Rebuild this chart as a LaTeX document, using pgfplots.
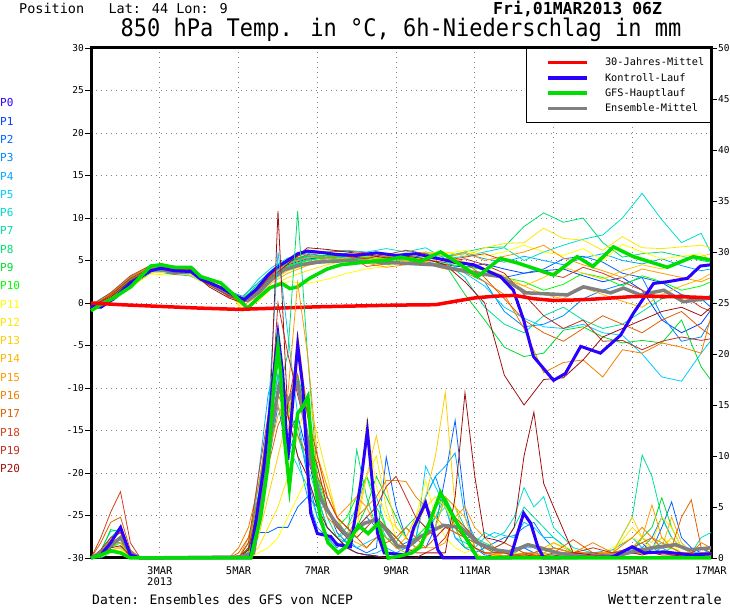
\documentclass[border=0pt]{standalone}
\usepackage{fontspec}
\setmainfont{DejaVu Sans Mono}
\usepackage{pgfplots}
\usepackage{pgfplotstable}
\pgfplotsset{compat=1.18}
\newcommand{\fs}[1]{\fontsize{#1}{#1}\selectfont}
\definecolor{c0}{HTML}{2A00FF}
\definecolor{c1}{HTML}{0040FF}
\definecolor{c2}{HTML}{0066FF}
\definecolor{c3}{HTML}{0088FF}
\definecolor{c4}{HTML}{00AAFF}
\definecolor{c5}{HTML}{00CCFF}
\definecolor{c6}{HTML}{00DDCC}
\definecolor{c7}{HTML}{00DDA0}
\definecolor{c8}{HTML}{00DD70}
\definecolor{c9}{HTML}{00DD30}
\definecolor{c10}{HTML}{00FF00}
\definecolor{c11}{HTML}{FFFF00}
\definecolor{c12}{HTML}{FFE600}
\definecolor{c13}{HTML}{FFCC00}
\definecolor{c14}{HTML}{FFB300}
\definecolor{c15}{HTML}{FF9900}
\definecolor{c16}{HTML}{F08000}
\definecolor{c17}{HTML}{E06000}
\definecolor{c18}{HTML}{D04020}
\definecolor{c19}{HTML}{C03020}
\definecolor{c20}{HTML}{A01010}
\definecolor{gfs}{HTML}{00DD00}
\definecolor{ens}{HTML}{808080}

% ---------- ensemble members, 850 hPa temperature ----------
\pgfplotstableread{
t     m1   m2   m3   m4   m5   m6   m7   m8   m9   m10  m11  m12  m13  m14  m15  m16  m17  m18  m19  m20
1.25 -0.5 -0.3 -0.6 -0.4 -0.5 -0.2 -0.4 -0.6 -0.5 -0.3 -0.6 -0.4 -0.5 -0.3 -0.5 -0.4 -0.6 -0.3 -0.5 -0.4
1.75  0.4  0.6  0.3  0.8  0.5  1.2  0.9  0.6  0.7  0.5  0.3  0.6  0.5  0.8  0.9  1.0  1.1  1.2  0.9  0.7
2.25  2.0  2.2  1.9  2.6  2.4  3.1  2.8  2.5  2.7  2.3  1.8  2.0  2.2  2.5  2.9  3.0  2.8  3.2  2.9  2.6
2.75  3.7  3.8  3.5  4.0  3.9  4.3  4.1  3.8  4.2  3.9  3.4  3.6  3.7  4.0  4.2  4.3  4.0  4.4  4.1  3.9
3.25  3.8  3.5  3.9  3.6  3.4  3.9  3.7  4.1  3.5  3.8  3.3  3.6  3.9  4.0  3.8  4.3  4.1  4.4  4.0  4.2
3.75  3.5  3.6  3.3  3.4  3.2  3.7  3.5  3.9  3.6  3.8  3.4  3.3  3.6  3.9  3.7  4.0  3.8  4.1  3.9  4.0
4.25  2.3  2.5  2.1  2.6  2.2  2.4  2.7  2.3  2.5  2.4  2.6  2.0  2.2  2.5  2.4  2.7  2.3  2.6  2.1  1.9
4.75  1.0  1.3  0.8  1.4  1.1  1.2  0.9  1.0  1.5  1.2  1.6  1.4  1.0  1.1  1.3  1.0  0.8  0.7  0.9  0.6
5.1   0.3  0.5  0.0  0.8  0.2  0.6  0.4  0.1  0.5  0.3 -0.8 -1.0  0.6 -0.3  0.2  0.4  0.1  0.5  0.3  0.0
5.5   1.5  1.8  1.2  2.4  1.6  2.8  2.0  1.4  2.2  1.5  0.2  0.5  1.0  0.8  1.3  1.7  1.9  1.6  1.4  1.2
5.85  3.2  3.5  2.8  3.9  3.0  4.2  3.6  3.0  3.8  3.1  1.8  2.0  2.6  2.4  2.9  3.3  3.5  3.4  3.7  3.0
6.25  4.5  4.8  4.0  5.0  4.2  5.3  4.7  4.3  4.9  4.4  2.5  3.0  3.8  3.5  4.0  4.6  4.9  5.0  5.2  4.6
6.75  5.2  5.5  4.8  5.6  5.0  5.8  5.4  5.1  5.5  5.0  2.3  3.8  4.5  4.4  4.8  5.3  5.7  6.0  6.2  6.5
7.25  5.3  5.6  5.2  5.9  5.4  6.1  5.5  5.3  5.6  5.4  2.8  4.5  4.8  5.0  5.2  5.4  5.9  6.0  5.8  6.3
7.75  5.5  5.4  5.0  5.8  5.6  6.2  5.3  5.1  5.5  5.2  3.5  5.0  4.9  5.3  5.0  5.6  5.7  6.1  5.5  6.0
8.25  5.3  5.2  4.9  5.6  5.4  6.0  5.1  5.3  5.0  5.4  4.0  5.2  5.1  5.5  4.7  5.8  4.3  5.9  5.2  5.7
8.75  5.0  5.5  5.2  5.4  5.7  6.4  4.5  5.0  5.3  5.1  4.3  5.6  5.4  5.2  4.2  5.5  4.6  5.7  5.8  5.3
9.25  5.2  5.7  5.0  5.8  5.5  6.0  4.8  5.3  5.6  5.0  4.9  5.4  5.8  5.0  4.5  5.2  4.8  6.2  5.4  5.5
9.75  4.8  5.3  4.6  5.6  5.9  6.5  4.4  6.0  5.2  4.7  5.4  5.9  6.0  4.8  4.9  4.6  4.5  5.8  5.0  5.2
10.25 4.5  5.0  4.2  5.5  5.0  5.2  4.8  5.5  4.5  4.6  5.8  6.0  5.5  4.2  5.2  4.0  4.5  5.0  4.8  4.5
10.75 4.2  4.6  4.0  5.8  3.5  5.5  3.0  6.0  1.0  4.3  6.2  5.5  4.8  4.0  6.0  3.6  4.8  5.4  5.2  2.5
11.25 4.6  3.8  2.5  5.2  2.0  6.0 -0.5  6.5 -2.0  3.9  5.5  6.5  4.0  3.5  5.0  2.5  3.0  5.8  4.5  0.0
11.75 4.0  3.0 -1.0  4.8 -0.5  6.5 -2.5  6.6 -5.2  3.0  6.0  7.0  3.2  2.8  5.5  1.0  0.5  5.0  3.5 -8.5
12.25 3.5  3.5 -2.8  5.5 -1.8  5.0 -3.5  9.0 -6.3  2.5  6.8  7.1  2.0  2.0  6.0 -3.0 -2.0  4.5  1.0 -12.0
12.75 3.8  4.0 -2.5  5.0 -2.8  6.0 -1.5 10.6 -5.9  1.5  6.0  8.8  3.0  1.0  6.8 -8.2 -3.5  3.5 -1.5 -9.0
13.25 4.0  5.2 -1.5  4.5 -3.0  6.8 -0.5  9.5 -3.2  2.2  5.6  7.6  4.2  0.5  5.3 -7.0 -4.5  3.0 -3.0 -8.8
13.75 3.2  5.5  0.5  5.3 -2.5  7.5 -2.0 10.0 -2.8  3.5  6.4  7.4  3.5  1.8  4.5 -6.7 -3.0  4.2 -2.0 -6.7
14.25 2.5  4.8  1.5  5.8 -3.5  8.0 -3.0  7.1 -4.0  3.0  5.0  6.2  2.8  1.0  3.8 -8.7 -1.5  3.5 -4.5 -4.0
14.75 3.0  3.5  2.2  5.0 -3.8 10.0 -2.5  5.4 -4.7  2.0  6.9  7.8  3.8  0.2  3.0 -5.5 -2.5  2.5 -4.4 -3.0
15.25 1.5  3.0  3.0  4.6 -6.0 12.9 -1.0  5.8 -4.4  3.2  6.0  6.5  4.5 -0.5  4.0 -5.9 -3.5  1.5 -5.5 -2.0
15.75 -2.0 2.4 -1.5  5.2 -8.7  9.8  0.5  6.0 -4.7  2.5  5.2  6.4  4.0  1.0  3.5 -4.7 -2.0  0.5 -4.5 -1.0
16.25 -3.5 1.0 -4.5  4.4 -9.2  7.1  1.0  5.5 -2.0  1.5  5.5  6.6  5.0  2.0  3.0 -5.2 -1.0  1.0 -4.0 -0.5
16.75 -2.4 0.5 -4.0  3.8 -5.9  8.2  0.2  5.0 -7.5  2.0  5.8  6.8  5.5  2.8  2.5 -5.9 -3.0 -0.5 -4.4 -1.5
17.0 -0.8 -0.5 -2.0  4.0 -4.4  5.9  1.0  4.8 -9.1  2.5  5.0  6.5  5.8  3.5  3.0 -1.6 -3.8 -1.0 -4.2 -0.5
}\tmem

% ---------- ensemble members, 6h precipitation ----------
\pgfplotstableread{
t     m1   m2   m3   m4   m5   m6   m7   m8   m9   m10  m11  m12  m13  m14  m15  m16  m17  m18  m19  m20
1.25  0    0    0    0    0    0    0    0    0    0    0    0    0    0    0    0    0    0    0    0
1.5   0.3  0.5  0.2  0    0.4  0.8  0.5  0.3  0.6  0.2  0.1  0.3  0.2  0.5  0.4  0.6  1.5  2.0  0.8  0.3
1.75  1.0  1.5  0.8  0.5  1.2  2.6  2.0  1.5  2.8  1.0  0.5  0.8  0.6  1.2  1.5  1.8  3.5  4.5  2.0  1.0
2.0   2.0  1.5  1.0  0.6  1.5  2.8  3.0  2.0  2.5  1.5  0.8  1.0  1.2  1.5  1.8  2.5  4.0  6.5  2.5  1.2
2.25  0.3  0.2  0.1  0    0.2  0.5  0.4  0.3  0.5  0.2  0    0.1  0.2  0.3  0.2  0.5  0.8  1.5  0.5  0.2
2.5   0    0    0    0    0    0    0    0    0    0    0    0    0    0    0    0    0    0    0    0
4.75  0    0    0    0    0    0    0    0    0    0    0    0    0    0    0    0    0    0    0    0
5.0   0    0    0    0    0    0    0    0    0    0    0    0    0    0    0    1.0  0.5  0    0    0
5.25  0.5  1.0  0.2  0.5  1.5  1.0  0.8  0.5  1.0  0.6  0    0.2  0.5  2.0  1.5  3.0  2.0  1.5  1.0  0.8
5.5   5    2.5  4    8    6    7    5    4    6    3    0.5  1    2    6    5    7    6    8    5    4
5.75  12   2.5  9    16   14   12   13   10   13   9    1    3    6    12   10   13   9    14   11   10
6.0   18   3    15   20   30   18   20   16   19   16   2    5    10   15   14   16   13   20   25   34
6.25  12   3    10   14   22   11   15   20   15   14   4    8    14   12   16   14   15   15   20   14
6.5   14   5    13   10   14   9    12   34   12   18   6    12   20   22   27   12   18   20   16   10
6.75  10   6    8    6    8    7    9    20   10   14   8    16   15   14   20   10   11   14   12   8
7.0   6    5    4    3    5    4    6    8    7    8    10   12   10   9    10   7    8    10   9    5
7.25  3    5    2    2    6    3    3    4    5    5    7    8    6    5    7    4    6    6    5    3
7.5   2    2.5  1    1.5  4    2    2    2    3    3    4    4    4    3    4    3    4    4    3    2
7.75  1    1.5  2    1    2    2.5  3    1.5  2    4    3    2    3    2    5    2    3    3    2    1
8.0   0.5  1    3    0.5  1    2    5    10.6 3    6    2    3    4    1.5  6    4    2    2    3    0.5
8.25  0.3  0.5  4    0.3  1.5  3    8    6    5    8    13.5 8    8    1    5    5    1    3    4    0.3
8.5   0.2  1    3    0.5  2    4    6    3    8    5    7    10   12   2    3    6    2    4    5    0.2
8.75  0    9.9  2    1    3    2    3    2    6    3    4    5    7    3    2    7.6  1.5  3    7    0
9.0   0    5    1    0.5  2    1    2    1.5  4    2    3    2    3    1    1    7.6  2    2    8    0
9.25  0    2    1.5  1    1    0.5  1    3    2    1    2    1    2    0.5  2    7.5  3    1    6    0
9.5   0    1    2    3    1.5  1    2    4    1    2    4    3    4    1    1    6    2    0.5  4    0
9.75  0    1    6    6    9    2    3    3    2    3    7.6  5    6    2    1    5    1    0.5  3    0.5
10.0  0    3    8    8    7    4    3    4    5    5    4    6    10   3    1    4    2    1    2    0.5
10.25 0    8    5    9    5    5    6    6    6    6    2    5    16.2 6    1.5  3    3    2    3    0.5
10.5  0    13.5 2    10.3 2    3    4    5    3    3    1    3    5    5    4    2.5  2.5  4    3    6
10.75 0    5    1    4    1.5  2    2    3    1    2    0.5  2    2    4    5    2    2    3    2    16.2
11.0  0    1    0.5  2    1    1.5  2    2    1    1.5  1    1    0.5  1    3    1    1.5  2    1    8
11.25 0    0.3  1    0.5  2    2.5  1.5  1    0.5  1    0.5  0.5  0    0.5  2    0.5  1    1    0.5  2
11.5  0    0.2  1.5  0.3  2.5  2    1    1    0.3  0.5  0.3  0.2  0    0.3  1    0.3  0.5  1    0.5  1.8
11.75 0    0.5  2    0.2  2.2  2.5  1.5  0.5  0.2  0.5  0.5  0.5  0    0.2  0.5  0.2  0.5  1.5  0.5  1.5
12.0  0    1    2.2  0.5  2    4    3    0.3  0.2  0.5  1    0.5  0    0    0.3  0.3  0.2  1    0.3  3
12.25 0    1    3    1    3.5  6.9  5    0.5  0.5  0.3  0.5  0.3  0    0    0.2  0.5  0.3  0.5  0.3  10
12.5  0    0.5  3.5  1    3    5    4    0.3  0.3  0.2  0.3  0.2  0    0.3  0.2  0.5  0.5  0.3  0.2  14.3
12.75 0    0.3  2    0.5  2    6    3    0.2  0.2  0.5  0.5  0.3  0.5  1    0.5  0.8  1.0  0.2  0.1  7.3
13.0  0    0.2  1    0.3  2    3    2    0.3  0.2  1    1.5  0.5  0.2  1.5  1    1    0.5  0.5  0.2  5
13.5  0    0.1  0.5  0.2  0.5  1    0.5  0.2  0.1  0.5  0.8  0.3  0.2  0.5  0.5  0.5  1.8  0.5  0.5  0.5
14.0  0    0.2  0.3  0.5  0.3  0.5  0.3  0.5  0.3  0.3  0.2  0.2  0.3  0.3  0.3  1.5  0.5  0.5  1    0.3
14.5  0.3  0.5  0.5  0.8  0.5  0.3  0.5  0.3  0.2  0.3  1    0.5  0.5  0.3  0.5  0.5  0.5  0.2  0.5  0.2
15.0  1    1    0.8  2    1    1    4    0.5  0.5  1    2    3    4    0.5  1    2    1    1    0.5  0.5
15.25 1.5  0.5  1    1    2    0.5  10.1 0.5  2    0.8  1.5  2    2    0.5  2    3    1.5  0.8  0.5  0.3
15.5  0.5  0.8  2    0.5  1    1    8    1    3    0.5  1    1.5  1    1    5.2  2    2    0.5  0.5  0.5
15.75 0.5  3    4    1    2    1.5  4    0.5  5.9  0.5  2    4    1    1    2    1.5  1    0.5  0.5  0.3
16.0  0.3  5.5  2    0.5  1    1    2    0.5  3    1    1.5  3    2    4    1    1    1    0.5  0.3  0.3
16.25 0.3  2    1    0.3  0.5  0.5  1    0.3  1    0.5  0.5  1    1    1.5  0.5  0.5  4    0.5  0.3  0.2
16.5  0.2  1    0.5  0.5  0.5  0.5  0.5  0.3  0.5  0.3  0.3  0.5  0.5  0.5  0.5  0.5  5.7  0.3  0.5  0.2
16.75 0.3  0.5  0.5  1    0.3  2    1    0.5  0.3  0.2  0.5  0.3  0.3  0.3  0.3  1.5  1    0.5  1    0.3
17.0  0.5  0.3  0.5  0.3  0.5  2.5  0.5  0.3  0.2  0.2  0.3  0.3  0.5  0.3  0.5  1    0.5  0.5  1    0.5
}\pmem

% ---------- main lines, temperature ----------
\pgfplotstableread{
t T
1.25 0
2.0 -0.2
3.0 -0.4
4.0 -0.6
5.0 -0.75
6.0 -0.6
7.0 -0.45
8.0 -0.35
9.0 -0.25
10.0 -0.2
10.5 0.2
11.0 0.6
11.5 0.8
12.0 0.9
12.5 0.5
13.0 0.3
13.5 0.35
14.0 0.45
14.5 0.6
15.0 0.75
15.5 0.8
16.0 0.75
16.5 0.7
17.0 0.6
}\tclim

\pgfplotstableread{
t T
1.25 -0.9
1.5 -0.2
1.83 0.6
2.26 1.9
2.77 4.35
3.03 4.5
3.36 4.2
3.79 4.2
4.04 3.1
4.55 2.35
4.88 0.95
5.23 -0.6
5.5 0.6
5.8 1.8
6.1 2.3
6.3 1.7
6.5 1.9
6.8 2.9
7.25 4.0
7.6 4.5
8.2 4.8
8.7 5.0
9.12 5.4
9.62 4.9
10.13 6.0
10.64 4.5
11.07 3.1
11.65 5.25
12.09 4.7
13.0 3.3
13.6 5.45
14.0 4.3
14.52 6.6
15.03 5.45
15.89 4.2
16.55 5.45
17.0 5.05
}\tgfs

\pgfplotstableread{
t T
1.25 -0.4
1.5 -0.5
1.83 0.5
2.26 2.4
2.77 3.8
3.03 4.1
3.36 3.8
3.79 3.7
4.04 2.8
4.55 1.8
4.88 0.9
5.15 0.4
5.45 1.6
5.75 3.3
6.0 4.3
6.25 5.0
6.5 5.8
6.75 6.1
7.0 6.0
7.5 5.7
8.0 5.6
8.5 5.9
9.0 5.6
9.5 5.8
10.0 5.3
10.5 4.8
10.97 4.5
11.65 3.1
11.98 1.5
12.24 -2.0
12.49 -6.3
13.0 -9.1
13.3 -8.3
13.69 -5.1
14.19 -5.9
14.7 -3.8
15.03 -1.2
15.54 2.3
15.89 2.5
16.4 2.9
16.73 4.35
17.0 4.5
}\tctrl

\pgfplotstableread{
t T
1.25 -0.6
1.83 0.6
2.26 2.3
2.77 3.9
3.03 4.0
3.36 3.5
3.79 3.7
4.22 2.5
4.62 1.5
4.98 0.7
5.23 0.3
5.5 1.2
5.82 2.7
6.15 3.9
6.58 4.5
7.0 4.8
7.78 5.0
8.6 4.8
9.12 4.7
9.95 4.5
10.8 3.7
11.65 3.1
12.3 1.2
13.35 0.95
13.76 1.9
14.45 1.2
14.78 1.75
15.2 0.95
15.8 1.5
16.3 0.15
17.0 0.6
}\tens

% ---------- main lines, precipitation ----------
\pgfplotstableread{
t P
1.25 0
1.5 0.3
1.75 1.5
2.0 3.0
2.25 0.3
2.5 0
5.3 0
5.64 8.9
5.82 15.5
6.0 21.9
6.12 18.1
6.25 9.6
6.38 15.5
6.5 20.9
6.63 16.8
6.76 8.3
6.83 4.4
7.0 2.4
7.34 2.1
7.5 1.3
7.84 1.1
8.1 7.3
8.27 12.5
8.4 7.3
8.53 2.4
8.7 0.5
9.25 0.3
9.45 3.0
9.75 5.4
9.93 3.0
10.06 0.8
10.2 0
11.9 0
12.24 4.4
12.42 3.4
12.6 1.1
12.75 0
14.5 0.1
15.0 1.1
15.3 0.5
15.8 0.6
16.5 0.3
17.0 0.4
}\pctrl

\pgfplotstableread{
t P
1.25 0
1.5 0.3
1.75 0.7
2.0 0.5
2.25 0
5.31 0
5.56 4.0
5.74 8.9
5.89 16.8
6.0 20.7
6.07 18.1
6.15 12.2
6.29 7.0
6.38 10.3
6.5 14.2
6.63 14.8
6.76 15.8
6.83 12.2
6.96 6.7
7.09 3.7
7.27 1.5
7.53 0.5
7.73 1.1
8.04 3.2
8.29 2.4
8.55 3.4
8.8 0
9.1 0.2
9.4 0.5
9.62 1.1
10.13 6.4
10.46 4.0
11.07 0
17.0 0
}\pgfs

\pgfplotstableread{
t P
1.25 0
1.5 0.5
1.75 1.2
2.0 2.0
2.25 0.5
2.5 0
5.0 0.1
5.38 0.5
5.64 6.7
5.82 12.2
6.02 16.8
6.2 15.2
6.38 16.2
6.5 17.2
6.66 13.8
6.83 9.6
7.09 5.7
7.42 3.7
7.78 2.1
8.19 3.4
8.45 3.7
8.7 3.0
9.05 1.1
9.3 1.1
9.62 2.1
10.2 3.2
10.64 3.0
11.07 1.5
11.5 0.8
11.9 0.6
12.35 1.3
12.67 1.0
13.1 0.5
13.76 0.1
14.6 0.2
15.0 0.6
15.5 1.0
16.1 1.3
16.45 0.8
17.0 1.0
}\pens

\begin{document}
\begin{tikzpicture}[x=1pt,y=1pt]
\path[use as bounding box] (0,0) rectangle (730,609);

% temperature axis (left)
\begin{axis}[
  at={(91pt,51pt)}, anchor=south west, scale only axis,
  width=620pt, height=510pt,
  xmin=1.25, xmax=17, ymin=-30, ymax=30, clip=false,
  axis line style={line width=3pt},
  xtick={3,5,7,9,11,13,15,17},
  xticklabels={{3MAR\\2013},5MAR,7MAR,9MAR,11MAR,13MAR,15MAR,17MAR},
  x tick label style={align=center, font=\fs{10.5}, inner sep=1pt, yshift=-2pt},
  x tick style={draw=none},
  ytick={-30,-25,-20,-15,-10,-5,0,5,10,15,20,25,30},
  yticklabels={-30,-25,-20,-15,-10,-5,0,5,10,15,20,25,30},
  ytick pos=left,
  y tick label style={font=\fs{9.5}, inner sep=1pt},
  tick align=outside, major tick length=6pt,
  y tick style={black, line width=0.8pt},
  grid=major,
  major grid style={gray, line width=0.8pt, dash pattern=on 1pt off 4pt},
]
\pgfplotsinvokeforeach{1,...,20}{
  \addplot[c#1, line width=0.8pt] table[x=t, y=m#1] {\tmem};
}
\addplot[ens, line width=3.5pt] table[x=t, y=T] {\tens};
\addplot[c0, line width=3pt] table[x=t, y=T] {\tctrl};
\addplot[gfs, line width=3.5pt] table[x=t, y=T] {\tgfs};
\addplot[red, line width=3.5pt] table[x=t, y=T] {\tclim};
\end{axis}

% precipitation axis (right)
\begin{axis}[
  at={(91pt,51pt)}, anchor=south west, scale only axis,
  width=620pt, height=510pt,
  xmin=1.25, xmax=17, ymin=0, ymax=50, clip=false,
  axis x line=none, axis y line*=right,
  y axis line style={line width=3pt, -},
  ytick={0,5,10,15,20,25,30,35,40,45,50},
  yticklabels={0,5,10,15,20,25,30,35,40,45,50},
  y tick label style={font=\fs{9.5}, inner sep=1pt},
  tick align=outside, major tick length=6pt,
  y tick style={black, line width=0.8pt},
  legend style={at={(1,1)}, anchor=north east, draw=black, line width=1.5pt,
    fill=white, font=\fs{10.3}, inner xsep=4pt, inner ysep=7pt, row sep=2pt,
    cells={anchor=west},
    /tikz/every odd column/.append style={column sep=14pt}},
  legend image code/.code={\path (0pt,0pt); \draw[#1] (16pt,0pt) -- (55pt,0pt);},
]
\addlegendimage{red, line width=3.5pt}
\addlegendentry{30-Jahres-Mittel}
\addlegendimage{c0, line width=3.5pt}
\addlegendentry{Kontroll-Lauf}
\addlegendimage{gfs, line width=3.5pt}
\addlegendentry{GFS-Hauptlauf}
\addlegendimage{ens, line width=3.5pt}
\addlegendentry{Ensemble-Mittel}
\pgfplotsinvokeforeach{1,...,20}{
  \addplot[c#1, line width=0.8pt] table[x=t, y=m#1] {\pmem};
}
\addplot[ens, line width=3.5pt] table[x=t, y=P] {\pens};
\addplot[c0, line width=3pt] table[x=t, y=P] {\pctrl};
\addplot[gfs, line width=3.5pt] table[x=t, y=P] {\pgfs};
\end{axis}

% member labels
\foreach \i in {0,...,20} {
  \node[anchor=west, inner sep=0pt, text=c\i, font=\fs{11}] at (0,{506-18.28*\i}) {P\i};
}

% texts
\node[anchor=base west, inner sep=0pt, font=\fs{13.5}] at (19,595) {Position\ \ \ Lat: 44 Lon: 9};
\node[anchor=base west, inner sep=0pt, font=\fs{16.5}\bfseries] at (493,594) {Fri,01MAR2013 06Z};
\node[anchor=base, inner sep=0pt, font=\fs{22}, yscale=1.1] at (401,572) {850 hPa Temp. in °C, 6h-Niederschlag in mm};
\node[anchor=base west, inner sep=0pt, font=\fs{13}] at (92,4) {Daten: Ensembles des GFS von NCEP};
\node[anchor=base east, inner sep=0pt, font=\fs{13.5}] at (722,4) {Wetterzentrale};
\end{tikzpicture}
\end{document}
